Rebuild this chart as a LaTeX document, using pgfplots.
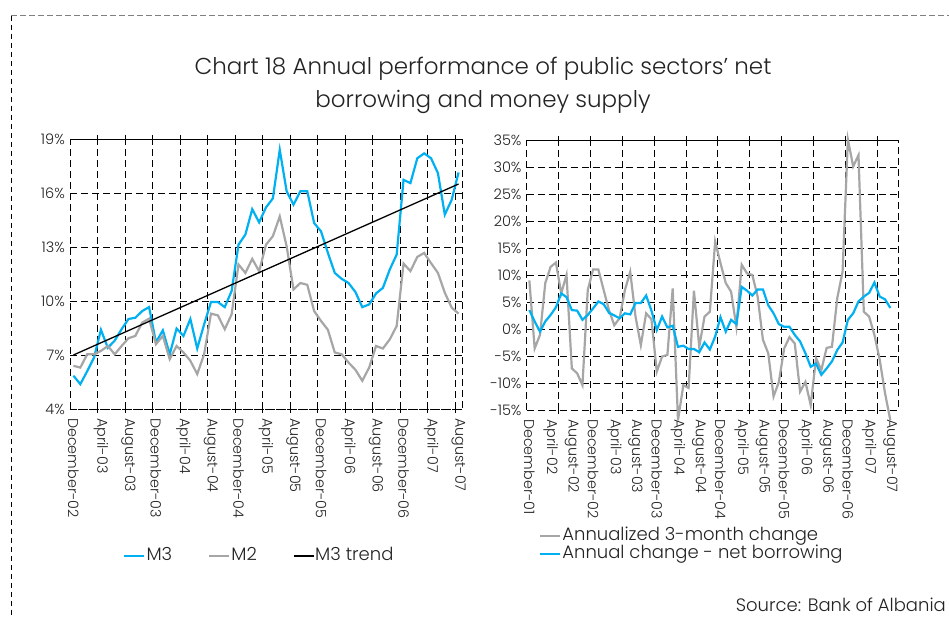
\documentclass[border=0pt]{standalone}
\usepackage{pgfplots}
\pgfplotsset{compat=1.18}
\usepackage{fontspec}
\setmainfont{Poppins}[UprightFont=* Light]
\definecolor{mblue}{RGB}{0,176,240}
\definecolor{mgrey}{RGB}{166,166,166}
\definecolor{txt}{RGB}{35,35,35}
\pgfplotsset{
  gridax/.style={
    scale only axis, clip=false,
    axis line style={black, line width=0.9pt, dash pattern=on 7pt off 4pt},
    ymajorgrids, xminorgrids, xmajorgrids=false,
    major grid style={black, line width=0.9pt, dash pattern=on 7pt off 4pt},
    minor grid style={black, line width=0.9pt, dash pattern=on 7pt off 4pt},
    tick align=outside,
    major tick length=0pt,
    minor tick length=4pt,
    minor x tick style={black, line width=0.9pt},
    xticklabel shift=9pt,
    x tick label style={rotate=-90, anchor=west, font=\fontsize{14.3}{16}\selectfont, text=txt, inner sep=0pt},
    y tick label style={font=\fontsize{14.5}{16}\selectfont, text=txt, inner sep=0pt, xshift=-5pt},
    legend style={draw=none, fill=none, font=\fontsize{18}{20}\selectfont, inner sep=0pt, text=txt,
      nodes={inner xsep=1pt, inner ysep=0pt, text height=13.5pt, text depth=4.5pt}},
    legend image code/.code={\draw[#1] (0pt,0pt) -- (20pt,0pt);},
  }
}
\begin{document}
\begin{tikzpicture}[x=1pt,y=1pt]
\path[use as bounding box] (0,0) rectangle (949,617);
\draw[gray, dash pattern=on 6pt off 3pt, line width=1pt] (11,601) -- (949,601);
\draw[black, dash pattern=on 5pt off 4pt, line width=0.8pt] (11,601) -- (11,0);
\node[align=center, font=\fontsize{23}{33}\selectfont, text=txt] at (483,532) {Chart 18 Annual performance of public sectors’ net\\borrowing and money supply};
\node[anchor=base east, font=\fontsize{18}{20}\selectfont, inner sep=0pt, text=txt] at (946,5) {Source: Bank of Albania};

\begin{axis}[gridax,
  at={(70pt,208pt)}, anchor=south west,
  width=392pt, height=270pt,
  xmin=-0.5, xmax=56.5, ymin=4, ymax=19,
  xtick={0,4,...,56},
  xticklabels={December-02,April-03,August-03,December-03,April-04,August-04,December-04,April-05,August-05,December-05,April-06,August-06,December-06,April-07,August-07},
  minor xtick={3.5,7.5,...,55.5},
  ytick={4,7,10,13,16,19},
  yticklabels={4\%,7\%,10\%,13\%,16\%,19\%},
  legend columns=3,
  legend style={at={(0.482,-0.544)}, anchor=center},
  /tikz/every even column/.append style={column sep=35pt},
]
\addplot[mblue, line width=2.2pt] coordinates {(0,5.85)(1,5.38)(2,6.1)(3,6.86)(4,8.4)(5,7.4)(6,7.8)(7,8.43)(8,9.0)(9,9.07)(10,9.44)(11,9.66)(12,7.7)(13,8.37)(14,7.04)(15,8.47)(16,8.06)(17,9.0)(18,7.36)(19,8.7)(20,9.94)(21,9.94)(22,9.66)(23,10.55)(24,13.13)(25,13.69)(26,15.1)(27,14.37)(28,15.2)(29,15.7)(30,18.4)(31,16.1)(32,15.35)(33,16.1)(34,16.1)(35,14.33)(36,13.87)(37,12.67)(38,11.56)(39,11.23)(40,11.0)(41,10.5)(42,9.66)(43,9.81)(44,10.42)(45,10.73)(46,11.75)(47,12.58)(48,16.73)(49,16.55)(50,17.93)(51,18.2)(52,17.93)(53,17.1)(54,14.8)(55,15.62)(56,17.14)};
\addlegendentry{M3}
\addplot[mgrey, line width=2.2pt] coordinates {(0,6.4)(1,6.3)(2,7.04)(3,7.04)(4,7.23)(5,7.5)(6,7.04)(7,7.5)(8,7.93)(9,8.06)(10,8.8)(11,9.02)(12,7.6)(13,8.06)(14,6.77)(15,7.5)(16,7.14)(17,6.68)(18,5.94)(19,7.04)(20,9.3)(21,9.2)(22,8.43)(23,9.26)(24,12.03)(25,11.56)(26,12.34)(27,11.65)(28,13.13)(29,13.6)(30,14.7)(31,13.04)(32,10.64)(33,11.0)(34,10.9)(35,9.44)(36,8.89)(37,8.4)(38,7.14)(39,7.04)(40,6.58)(41,6.18)(42,5.57)(43,6.3)(44,7.5)(45,7.36)(46,7.87)(47,8.61)(48,12.08)(49,11.66)(50,12.45)(51,12.67)(52,12.1)(53,11.56)(54,10.46)(55,9.63)(56,9.3)};
\addlegendentry{M2}
\addplot[black, line width=1.3pt] coordinates {(0,7.0)(56,16.5)};
\addlegendentry{M3 trend}
\end{axis}

\begin{axis}[gridax,
  at={(526.7pt,207pt)}, anchor=south west,
  width=371.6pt, height=270pt,
  xmin=-0.5, xmax=69.5, ymin=-15, ymax=35,
  xtick={0,4,...,68},
  xticklabels={December-01,April-02,August-02,December-02,April-03,August-03,December-03,April-04,August-04,December-04,April-05,August-05,December-05,April-06,August-06,December-06,April-07,August-07},
  minor xtick={5.5,11.5,...,65.5},
  ytick={-15,-10,...,35},
  yticklabels={-15\%,-10\%,-5\%,0\%,5\%,10\%,15\%,20\%,25\%,30\%,35\%},
  legend columns=1,
  legend cell align=left,
  legend style={at={(0.033,-0.50)}, anchor=west},
]
\addplot[mgrey, line width=2.2pt] coordinates {(0,9.0)(1,-3.6)(2,-1.1)(3,8.5)(4,11.5)(5,12.3)(6,6.6)(7,10.0)(8,-7.3)(9,-8.2)(10,-10.4)(11,7.2)(12,11.0)(13,11.0)(14,7.2)(15,3.5)(16,0.7)(17,2.0)(18,7.2)(19,10.6)(20,2.3)(21,-3.0)(22,2.9)(23,1.8)(24,-7.9)(25,-5.1)(26,-4.8)(27,7.5)(28,-16.9)(29,-10.4)(30,-10.9)(31,7.1)(32,-3.3)(33,2.3)(34,3.2)(35,16.2)(36,12.2)(37,8.5)(38,6.9)(39,0.4)(40,11.9)(41,10.3)(42,10.0)(43,6.0)(44,-2.0)(45,-4.5)(46,-12.5)(47,-9.8)(48,-3.6)(49,-1.5)(50,-2.7)(51,-11.6)(52,-9.8)(53,-14.1)(54,-5.4)(55,-7.6)(56,-3.5)(57,-3.3)(58,5.7)(59,10.6)(60,35.1)(61,30.1)(62,32.2)(63,3.2)(64,2.3)(65,-1.1)(66,-5.7)(67,-11.9)(68,-16.9)};
\addlegendentry{Annualized 3-month change}
\addplot[mblue, line width=2.2pt] coordinates {(0,3.5)(1,1.4)(2,-0.5)(3,1.4)(4,2.6)(5,4.0)(6,6.6)(7,5.9)(8,3.5)(9,3.4)(10,1.7)(11,2.6)(12,3.8)(13,5.1)(14,4.6)(15,3.0)(16,2.5)(17,2.0)(18,2.9)(19,2.7)(20,4.8)(21,4.8)(22,6.2)(23,3.4)(24,-0.2)(25,2.3)(26,0.3)(27,0.6)(28,-3.3)(29,-3.1)(30,-3.7)(31,-3.7)(32,-4.3)(33,-2.5)(34,-3.8)(35,-1.4)(36,2.2)(37,-0.5)(38,1.7)(39,0.9)(40,7.8)(41,7.1)(42,6.2)(43,7.3)(44,7.3)(45,4.4)(46,2.9)(47,0.9)(48,0.4)(49,0.4)(50,-1.1)(51,-2.3)(52,-4.5)(53,-7.0)(54,-6.4)(55,-8.5)(56,-7.3)(57,-6.0)(58,-3.9)(59,-2.5)(60,1.7)(61,2.9)(62,5.1)(63,6.0)(64,6.7)(65,8.6)(66,6.0)(67,5.5)(68,3.9)};
\addlegendentry{Annual change - net borrowing}
\end{axis}
\end{tikzpicture}
\end{document}
